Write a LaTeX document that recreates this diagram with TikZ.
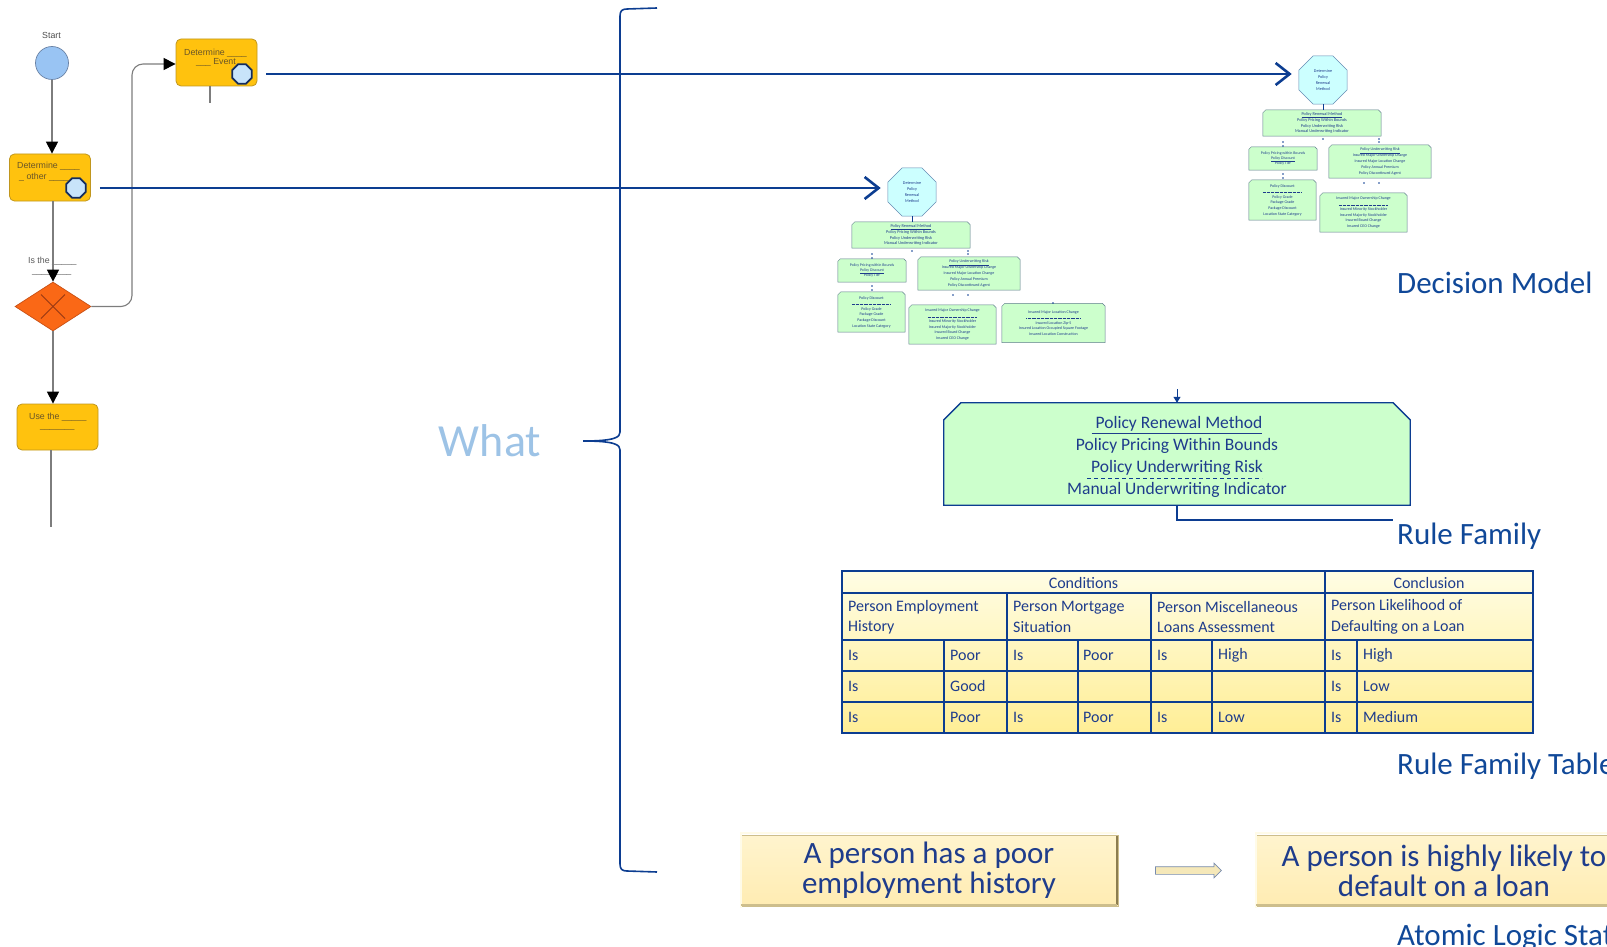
\documentclass[tikz,border=0pt]{standalone}
\usepackage{fontspec}
\setmainfont{Carlito}
\newfontfamily\procfont{Liberation Sans}
\usetikzlibrary{arrows.meta,shapes.geometric,shapes.arrows,calc}

\definecolor{navy}{RGB}{12,61,145}
\definecolor{labelblue}{RGB}{16,72,152}
\definecolor{txtnavy}{RGB}{30,60,140}
\definecolor{whatblue}{RGB}{157,195,230}
\definecolor{taskgold}{RGB}{255,194,14}
\definecolor{taskedge}{RGB}{192,150,30}
\definecolor{tasktext}{RGB}{105,85,40}
\definecolor{flowgray}{RGB}{125,125,125}
\definecolor{gworange}{RGB}{250,104,22}
\definecolor{gwedge}{RGB}{200,80,20}
\definecolor{gwcross}{RGB}{150,55,20}
\definecolor{startfill}{RGB}{153,196,243}
\definecolor{startedge}{RGB}{105,130,165}
\definecolor{evfill}{RGB}{200,228,250}
\definecolor{evedge}{RGB}{20,45,95}
\definecolor{mint}{RGB}{204,255,204}
\definecolor{mintedge}{RGB}{95,125,140}
\definecolor{cyanpale}{RGB}{204,255,255}
\definecolor{octedge}{RGB}{100,140,180}
\definecolor{tabtop}{RGB}{255,253,228}
\definecolor{tabbot}{RGB}{255,238,150}
\definecolor{stmttop}{RGB}{255,244,206}
\definecolor{stmtbot}{RGB}{255,236,178}
\definecolor{stmtlight}{RGB}{255,251,232}
\definecolor{stmtdark}{RGB}{140,125,80}
\definecolor{stmtmid}{RGB}{205,190,140}
\definecolor{arrowfill}{RGB}{245,232,185}
\definecolor{arrowedge}{RGB}{120,140,175}

% thin dashed separator used inside the small model boxes
\newcommand\dashsep[1]{\hbox to #1{\leaders\hbox to 1.3pt{\hss\vrule height 0.3pt depth 0pt width 0.7pt\hss}\hfill}}

% box with chamfered top corners: box style, text style, name, centre, width, height, chamfer, text
\newcommand\chambox[8]{%
  \path node[inner sep=0pt, minimum width=#5, minimum height=#6] (#3) at (#4) {};
  \draw[#1] (#3.south west) -- ([yshift=-#7]#3.north west) -- ([xshift=#7]#3.north west)
     -- ([xshift=-#7]#3.north east) -- ([yshift=-#7]#3.north east) -- (#3.south east) -- cycle;
  \node[inner sep=0pt, align=center, #2] (#3-t) at (#3.center) {#8};}

\tikzset{
  flow/.style={draw=flowgray, line width=1.1pt, -{Triangle[length=12pt,width=12pt,color=black]}},
  flowline/.style={draw=flowgray, line width=1.1pt},
  task/.style={rounded corners=5pt, fill=taskgold, draw=taskedge, line width=0.8pt, inner sep=0pt,
    minimum width=81pt, minimum height=47pt},
  tasklabel/.style={font=\procfont\fontsize{8.8}{10}\selectfont, text=tasktext, inner sep=0pt, anchor=base west},
  evmark/.style={regular polygon, regular polygon sides=8, minimum size=21pt, inner sep=0pt,
    fill=evfill, draw=evedge, line width=1.8pt},
  startev/.style={circle, minimum size=33pt, inner sep=0pt, fill=startfill, draw=startedge, line width=0.7pt},
  gateway/.style={diamond, minimum width=76pt, minimum height=49pt, inner sep=0pt, fill=gworange,
    draw=gwedge, line width=0.7pt},
  smalllabel/.style={font=\procfont\fontsize{8.8}{10}\selectfont, text=black!65, inner sep=0pt, anchor=base west},
  linkarrow/.style={draw=navy, line width=2.6pt, -{Straight Barb[length=14pt,width=22pt]}},
  bracepath/.style={draw=navy, line width=1.6pt},
  dmoct/.style={regular polygon, regular polygon sides=8, minimum size=52pt, inner sep=0pt, fill=cyanpale,
    draw=octedge, line width=0.5pt, font=\fontsize{4.2}{6}\selectfont, text=txtnavy, align=center},
  dmbox/.style={fill=mint, draw=mintedge, line width=0.5pt},
  dmtext/.style={font=\fontsize{4.3}{5.9}\selectfont, text=txtnavy},
  dmlink/.style={draw=navy, line width=0.8pt},
  rfbox/.style={fill=mint, draw=navy, line width=1.3pt},
  rftext/.style={font=\fontsize{17.5}{22}\selectfont, text=txtnavy, yshift=-3pt},
  sidelabel/.style={font=\fontsize{31}{36}\selectfont, text=labelblue, inner sep=0pt, anchor=base west},
  gridline/.style={draw=navy, line width=1.1pt},
  tcell/.style={font=\fontsize{16}{20.5}\selectfont, text=txtnavy, inner sep=0pt, anchor=west, align=left},
  stmt/.style={minimum width=378pt, minimum height=71pt, inner sep=0pt, align=center,
    top color=stmttop, bottom color=stmtbot, draw=stmtmid, line width=0.8pt,
    font=\fontsize{31}{30}\selectfont, text=txtnavy},
  bevellight/.style={draw=stmtlight, line width=2.2pt},
  beveldark/.style={draw=stmtdark, line width=2.2pt},
  blockarrow/.style={single arrow, single arrow head extend=3.5pt, minimum height=66pt, inner sep=3.5pt,
    fill=arrowfill, draw=arrowedge, line width=0.7pt}
}

% small decision model: prefix, x, y of the octagon centre
\newcommand\decmodel[3]{%
\begin{scope}[shift={(#2,#3)}]
  \node[dmoct] (#1-oct) at (0,0) {Determine\\Policy\\Renewal\\Method};
  \chambox{dmbox}{dmtext}{#1-b1}{-1,43}{118pt}{26pt}{3pt}{\underline{Policy Renewal Method}\\Policy Pricing Within Bounds\\Policy Underwriting Risk\\Manual Underwriting Indicator}
  \chambox{dmbox}{dmtext, font=\fontsize{3.9}{5.4}\selectfont}{#1-b2}{-40,78.5}{68pt}{23pt}{2.5pt}{Policy Pricing within Bounds\\\underline{Policy Discount}\\Policy Tier}
  \chambox{dmbox}{dmtext, font=\fontsize{4}{5.8}\selectfont}{#1-b3}{57,81.5}{102pt}{33pt}{3pt}{\underline{Policy Underwriting Risk}\\Insured Major Ownership Change\\Insured Major Location Change\\Policy Annual Premium\\Policy Discontinued Agent}
  \chambox{dmbox}{dmtext, font=\fontsize{4}{5.6}\selectfont}{#1-b4}{-40.5,120}{67pt}{40pt}{3pt}{Policy Discount\\\dashsep{40pt}\\Policy Grade\\Package Grade\\Package Discount\\Location State Category}
  \chambox{dmbox}{dmtext, font=\fontsize{4}{5.6}\selectfont}{#1-b5}{40.5,132.5}{87pt}{39pt}{3pt}{Insured Major Ownership Change\\\dashsep{50pt}\\Insured Minority Stockholder\\Insured Majority Stockholder\\Insured Board Change\\Insured CEO Change}
  \draw[dmlink] (#1-oct.south) -- (#1-oct.south |- #1-b1.north);
  \foreach \a/\b in {-40/62,-40/66,0/59,56/59,56/62,-40/94,-40/98,41/103,56/103}
    \fill[navy] (\a,\b) circle (0.9pt);
\end{scope}}

\begin{document}
\begin{tikzpicture}[x=1pt,y=-1pt]
\useasboundingbox (0,0) rectangle (1607,947);
\clip (0,0) rectangle (1607,947);

% ---------- process flow ----------
\node[startev] (start) at (52,63) {};
\node[smalllabel, text=black!70] (startlbl) at (42,39) {Start};

\node[task] (dother) at (50,177.5) {};
\node[tasklabel] (dother-l1) at (17,169) {Determine \_\_\_\_};
\node[tasklabel] (dother-l2) at (19,179) {\_ other \_\_\_\_};
\node[evmark] (dother-ev) at (76,188) {};

\node[task] (devent) at (216.5,62.5) {};
\node[tasklabel] (devent-l1) at (184,56) {Determine \_\_\_\_};
\node[tasklabel] (devent-l2) at (196,65) {\_\_\_ Event};
\node[evmark] (devent-ev) at (242,74) {};

\node[gateway] (gw) at (53,306.5) {};
\draw[gwcross, line width=0.9pt] (gw.center) ++(-12,-12) -- ++(24,24);
\draw[gwcross, line width=0.9pt] (gw.center) ++(12,-12) -- ++(-24,24);
\node[smalllabel] (gwlbl1) at (28,263) {Is the \_\_\_\_\_};
\node[smalllabel] (gwlbl2) at (32,273) {\_\_\_\_\_\_\_\_};

\node[task, minimum height=46pt] (usebox) at (57.5,427) {};
\node[tasklabel] (usebox-l1) at (29,419) {Use the \_\_\_\_\_};
\node[tasklabel] (usebox-l2) at (40,428.5) {\_\_\_\_\_\_\_};

\coordinate (loopturn) at (132,64);
\coordinate (devent-tail) at (210,103);
\coordinate (usebox-tail) at (51,527);

\draw[flow] (start.south) -- (start.south |- dother.north);
\draw[flow] (gw.north |- dother.south) -- (gw.north);
\draw[flow] (gw.south) -- (gw.south |- usebox.north);
\draw[flow, rounded corners=11pt] (gw.east) -| (loopturn) -- (devent.west |- loopturn);
\draw[flowline] (devent-tail |- devent.south) -- (devent-tail);
\draw[flowline] (usebox-tail |- usebox.south) -- (usebox-tail);

% ---------- decision models ----------
\decmodel{dmA}{912}{192}
\begin{scope}[shift={(912,192)}]
  \chambox{dmbox}{dmtext, font=\fontsize{4}{5.6}\selectfont}{dmA-b6}{141.5,131}{103pt}{39pt}{3pt}{Insured Major Location Change\\\dashsep{55pt}\\Insured Location Zip-5\\Insured Location Occupied Square Footage\\Insured Location Construction}
  \fill[navy] (141,111) circle (0.9pt);
\end{scope}
\decmodel{dmB}{1323}{80}

% ---------- links from the process to the models ----------
\draw[linkarrow, shorten <=9pt, shorten >=7pt] (devent.east |- devent-ev.center) -- (dmB-oct.west |- devent-ev.center);
\draw[linkarrow, shorten <=9pt, shorten >=7pt] (dother.east |- dother-ev.center) -- (dmA-oct.west |- dother-ev.center);

% ---------- brace and its caption ----------
\draw[bracepath] (657,8) -- (627,9) .. controls (622,9) and (620,11) .. (620,16) -- (620,432)
  .. controls (620,437) and (616,441) .. (583,441) .. controls (616,441) and (620,445) .. (620,450)
  -- (620,864) .. controls (620,869) and (622,871) .. (627,871) -- (657,872);
\node[font=\fontsize{46}{50}\selectfont, text=whatblue, inner sep=0pt] (what) at (490,441) {What};

\node[sidelabel] (dmlbl) at (1397,293) {Decision Model};

% ---------- rule family ----------
\chambox{rfbox}{rftext}{rf}{1177,454}{466pt}{102pt}{17pt}{\underline{\ Policy Renewal Method}\\Policy Pricing Within Bounds\\Policy Underwriting Risk\\Manual Underwriting Indicator}
\draw[navy, dash pattern=on 4pt off 3pt, line width=0.9pt] ($(rf.center)+(-90,24)$) -- ($(rf.center)+(85,24)$);
\coordinate (rf-in) at (1177,389);
\draw[navy, line width=1pt, -{Triangle[length=6pt,width=7pt]}] (rf-in) -- (rf.north);
\node[sidelabel] (rflbl) at (1397,544) {Rule Family};
\coordinate (rf-end) at (1393,520);
\draw[navy, line width=1.2pt] (rf.south) |- (rf-end);

% ---------- rule family table ----------
\shade[top color=tabtop, bottom color=tabbot] (842,571) rectangle (1533,733);
\draw[gridline] (842,593) -- (1533,593) (842,640) -- (1533,640) (842,671) -- (1533,671) (842,702) -- (1533,702);
\draw[gridline] (1325,571) -- (1325,733);
\draw[gridline] (1007,593) -- (1007,733) (1151,593) -- (1151,733);
\draw[gridline] (944,640) -- (944,733) (1078,640) -- (1078,733) (1212,640) -- (1212,733) (1357,640) -- (1357,733);
\draw[gridline, line width=1.5pt] (842,571) rectangle (1533,733);

\node[tcell, anchor=center] (t-cond) at (1083.5,583) {Conditions};
\node[tcell, anchor=center] (t-concl) at (1429,583) {Conclusion};
\node[tcell] (t-h1) at (848,617) {Person Employment\\History};
\node[tcell] (t-h2) at (1013,617) {Person Mortgage\\Situation};
\node[tcell] (t-h3) at (1157,617) {Person Miscellaneous\\Loans Assessment};
\node[tcell] (t-h4) at (1331,617) {Person Likelihood of\\Defaulting on a Loan};

\node[tcell] (r1c1) at (848,655) {Is};
\node[tcell] (r1c2) at (950,655) {Poor};
\node[tcell] (r1c3) at (1013,655) {Is};
\node[tcell] (r1c4) at (1083,655) {Poor};
\node[tcell] (r1c5) at (1157,655) {Is};
\node[tcell] (r1c6) at (1218,655) {High};
\node[tcell] (r1c7) at (1331,655) {Is};
\node[tcell] (r1c8) at (1363,655) {High};

\node[tcell] (r2c1) at (848,686) {Is};
\node[tcell] (r2c2) at (950,686) {Good};
\node[tcell] (r2c7) at (1331,686) {Is};
\node[tcell] (r2c8) at (1363,686) {Low};

\node[tcell] (r3c1) at (848,717) {Is};
\node[tcell] (r3c2) at (950,717) {Poor};
\node[tcell] (r3c3) at (1013,717) {Is};
\node[tcell] (r3c4) at (1083,717) {Poor};
\node[tcell] (r3c5) at (1157,717) {Is};
\node[tcell] (r3c6) at (1218,717) {Low};
\node[tcell] (r3c7) at (1331,717) {Is};
\node[tcell] (r3c8) at (1363,717) {Medium};

\node[sidelabel] (rftlbl) at (1397,774) {Rule Family Table};

% ---------- atomic logic statement ----------
\node[stmt] (s1) at (929,870.5) {A person has a poor\\employment history};
\node[stmt] (s2) at (1444,870.5) {A person is highly likely to\\default on a loan};
\foreach \s in {s1,s2} {
  \draw[bevellight] ([shift={(1.5pt,-1.5pt)}]\s.south west) -- ([shift={(1.5pt,1.5pt)}]\s.north west)
     -- ([shift={(-1.5pt,1.5pt)}]\s.north east);
  \draw[beveldark] ([shift={(-1.2pt,-1.2pt)}]\s.north east) -- ([shift={(-1.2pt,1.2pt)}]\s.south east);
  \draw[draw=stmtmid, line width=2pt] ([shift={(-1.2pt,1.2pt)}]\s.south east) -- ([shift={(1.5pt,1.2pt)}]\s.south west);
}
\node[blockarrow] (s-arrow) at ($(s1.east)!0.5!(s2.west)$) {};
\node[sidelabel] (allbl) at (1397,945) {Atomic Logic Statement};

\end{tikzpicture}
\end{document}
